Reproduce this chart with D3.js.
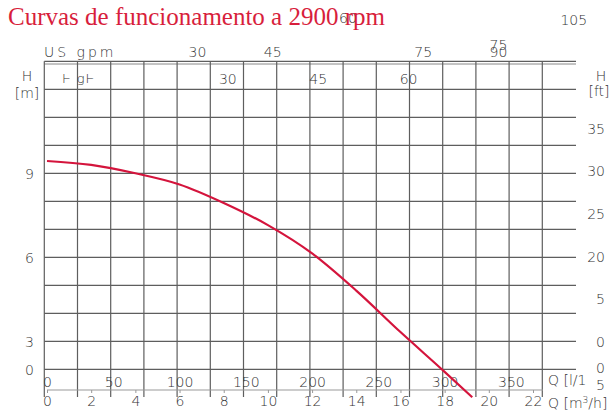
<!DOCTYPE html>
<html>
<head>
<meta charset="utf-8">
<script src="https://d3js.org/d3.v7.min.js"></script>
<style>
  body { margin: 0; background: #fff; }
  text { font-family: "DejaVu Sans", sans-serif; font-weight: 200; fill: #333; }
</style>
</head>
<body>
<div id="chart"></div>
<script>
// pump curve, Q in m3/h, H in m
const flowM3h = [0, 2, 4, 6, 8, 10, 12, 14, 16, 18, 19.25];
const headM = [9.44, 9.3, 9.0, 8.6, 7.94, 7.15, 6.14, 4.81, 3.33, 1.91, 1.0];

// tick labels (some of them are misplaced in the original, kept as drawn)
const lpmTicks = [0, 50, 100, 150, 200, 250, 300, 350];
const m3hTicks = [0, 2, 4, 6, 8, 10, 12, 14, 16, 18, 20, 22];
const usGpmTicks = [30, 45, 75, 90];
const usGpmStray = [["60", 60], ["105", 105], ["75", 90]];
const impGpmTicks = [30, 45, 60];
const leftLabels = ["9", "6", "3", "0"];
const leftAt = [9, 6, 3, 2];
const rightLabels = ["35", "30", "25", "20", "5", "0", "0", "5"];
const rightAtFt = [35, 30, 25, 20, 15, 10, 7, 5];

const W = 610, H = 410;
const svg = d3.select('#chart').append('svg').attr('width', W).attr('height', H);

const x = d3.scaleLinear().domain([0, 22]).range([47, 533]);
const y = d3.scaleLinear().domain([0, 10]).range([425.3, 145.3]);
// grid is 25 l/min per column, slightly offset from the axis
const gx = d3.scaleLinear().domain([0, 16]).range([44.3, 575.5]);

const gridCol = '#5e5e5e';
const g = svg.append('g');

// horizontal grid
g.selectAll('line.h').data(d3.range(2, 14)).enter().append('line')
  .attr('x1', 44.3).attr('x2', 576)
  .attr('y1', d => y(d)).attr('y2', d => y(d))
  .attr('stroke', gridCol).attr('stroke-width', 1.2);
g.append('line').attr('x1', 44.3).attr('x2', 576)
  .attr('y1', y(13) + 2.7).attr('y2', y(13) + 2.7)
  .attr('stroke', '#888').attr('stroke-width', 1);

// vertical grid
g.selectAll('line.v').data(d3.range(0, 16)).enter().append('line')
  .attr('x1', d => gx(d)).attr('x2', d => gx(d))
  .attr('y1', y(13)).attr('y2', 397)
  .attr('stroke', gridCol).attr('stroke-width', 1.2);

// m3/h axis
const axM = svg.append('g').attr('transform', 'translate(0,390)')
  .call(d3.axisBottom(x).tickValues(m3hTicks).tickSize(3).tickSizeOuter(0).tickPadding(3));
axM.select('.domain').attr('stroke', '#999').attr('d', `M${x(0)},0H${x(22) + 10}`);
axM.selectAll('.tick line').attr('stroke', '#999');
axM.selectAll('text').style('font-size', '14px').attr('fill', '#333').style('font-family', 'DejaVu Sans').style('font-weight', 200);

// l/min axis (same scale, labels only)
const axL = svg.append('g').attr('transform', 'translate(0,390)')
  .call(d3.axisTop(d3.scaleLinear().domain([0, 350]).range([x(0), x(350 * 0.06)]))
    .tickValues(lpmTicks).tickSize(0).tickPadding(3));
axL.select('.domain').remove();
axL.selectAll('text').style('font-size', '14px').attr('fill', '#333').style('font-family', 'DejaVu Sans').style('font-weight', 200);

svg.append('text').attr('x', 548).attr('y', 385).style('font-size', '14px').text('Q [l/1');
svg.append('text').attr('x', 548).attr('y', 408).style('font-size', '14px')
  .html('Q [m<tspan dy="-5" style="font-size:9px">3</tspan><tspan dy="5">/h]</tspan>');

// left H labels
svg.selectAll('text.l').data(leftLabels).enter().append('text')
  .attr('x', 34).attr('y', (d, i) => y(leftAt[i]) + 1)
  .attr('text-anchor', 'end').attr('dominant-baseline', 'central')
  .style('font-size', '14px').text(d => d);
svg.append('text').attr('x', 27).attr('y', 81).attr('text-anchor', 'middle').style('font-size', '14px').text('H');
svg.append('text').attr('x', 27).attr('y', 98).attr('text-anchor', 'middle').style('font-size', '14px').text('[m]');

// right ft labels
svg.selectAll('text.r').data(rightLabels).enter().append('text')
  .attr('x', 605).attr('y', (d, i) => y(rightAtFt[i] / 3.281) + 2)
  .attr('text-anchor', 'end').attr('dominant-baseline', 'central')
  .style('font-size', '14px').text(d => d);
svg.append('text').attr('x', 601).attr('y', 81).attr('text-anchor', 'middle').style('font-size', '14px').text('H');
svg.append('text').attr('x', 599).attr('y', 96).attr('text-anchor', 'middle').style('font-size', '14px').text('[ft]');

// US gpm row
svg.append('text').attr('x', 44).attr('y', 57).style('font-size', '14px').style('letter-spacing', '3px').text('US  gpm');
svg.selectAll('text.us').data(usGpmTicks).enter().append('text')
  .attr('x', d => x(d * 0.2271)).attr('y', 57).attr('text-anchor', 'middle')
  .style('font-size', '14px').text(d => d);
svg.selectAll('text.us2').data(usGpmStray).enter().append('text')
  .attr('x', d => x(d[1] * 0.2271)).attr('y', (d, i) => [23, 25, 50][i]).attr('text-anchor', 'middle')
  .style('font-size', '14px').text(d => d[0]);

// Imp gpm row
svg.append('text').attr('x', 62).attr('y', 83).style('font-size', '13px').style('letter-spacing', '1px').text('Ⱶ gⱵ');
svg.selectAll('text.imp').data(impGpmTicks).enter().append('text')
  .attr('x', d => x(d * 0.2728)).attr('y', 84).attr('text-anchor', 'middle')
  .style('font-size', '14px').text(d => d);

// pump curve
const line = d3.line().x(d => x(d[0])).y(d => y(d[1])).curve(d3.curveMonotoneX);
svg.append('path').datum(flowM3h.map((q, i) => [q, headM[i]]))
  .attr('d', line).attr('fill', 'none').attr('stroke', '#d4143c').attr('stroke-width', 2.2);

// title
svg.append('text').attr('x', 8).attr('y', 25)
  .style('font-family', '"Liberation Serif", serif').style('font-weight', 400)
  .style('font-size', '25px').style('fill', '#d81e3c')
  .text('Curvas de funcionamento a 2900 rpm');
</script>
</body>
</html>
